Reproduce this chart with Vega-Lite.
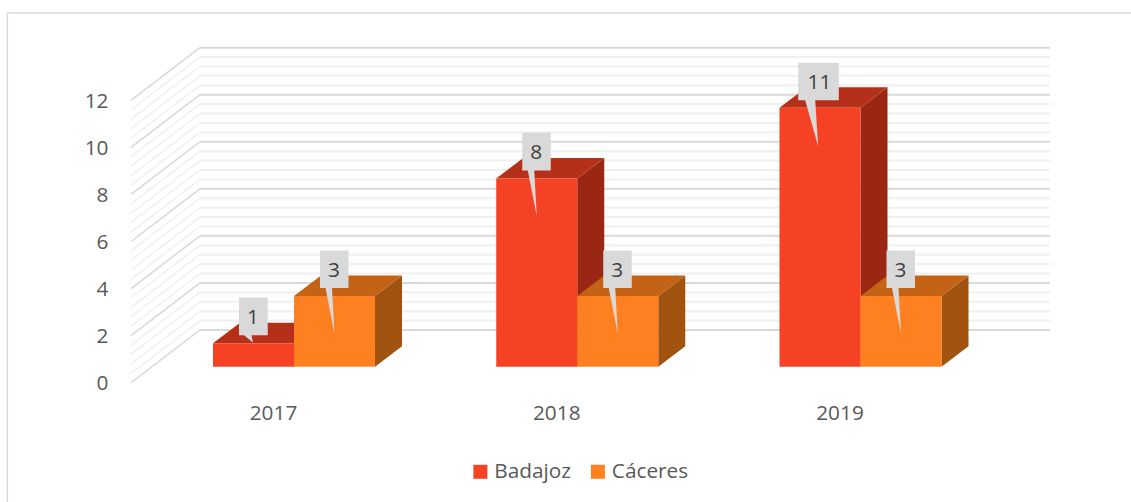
{
"$schema":"https://vega.github.io/schema/vega-lite/v6.json",
"width":1131,"height":502,"autosize":"none","padding":0,"background":"white",
"view":{"stroke":null},
"config":{"font":"Open Sans"},
"data":{"values":[
{"year":2017,"series":"Badajoz","value":1},
{"year":2017,"series":"Cáceres","value":3},
{"year":2018,"series":"Badajoz","value":8},
{"year":2018,"series":"Cáceres","value":3},
{"year":2019,"series":"Badajoz","value":11},
{"year":2019,"series":"Cáceres","value":3}
]},
"transform":[
{"calculate":"datum.year+(datum.series=='Badajoz'?-0.28597:0)","as":"xl"},
{"calculate":"datum.xl+0.28597","as":"xr"},
{"calculate":"datum.xl+0.142985","as":"xc"},
{"calculate":"datum.value+0.68","as":"top"},
{"calculate":"0","as":"p0"},
{"calculate":"1","as":"p1"},
{"fold":["p0","p1"],"as":["k","t"]},
{"calculate":"datum.xr+datum.t*0.09532","as":"sx"},
{"calculate":"datum.xl+datum.t*0.09532","as":"tx"},
{"calculate":"0.68+datum.t*0.8712","as":"sy0"},
{"calculate":"datum.top+datum.t*0.8712","as":"sy1"},
{"calculate":"datum.value==11?'w':(datum.value==1?'s':'n')","as":"kind"}
],
"layer":[
{"data":{"values":[{}]},"mark":{"type":"rule","color":"#D9D9D9","strokeWidth":1.5},
 "encoding":{
  "x":{"datum":2015.988,"type":"quantitative","scale":{"domain":[2015.962,2019.955],"nice":false,"zero":false},
   "axis":{"title":null,"orient":"bottom","values":[2017,2018,2019],"format":"d","domain":false,"ticks":false,"grid":false,"labelFontSize":20.8,"labelFont":"Open Sans","labelColor":"#595959","labelBaseline":"middle","labelPadding":0,"labelOffset":-21,"offset":-89,"labelOverlap":false,"labelBound":false,"labelFlush":false}},
  "y":{"datum":-5.07,"type":"quantitative","scale":{"domain":[-5.07,16.264],"nice":false,"zero":false},
   "axis":{"title":null,"orient":"left","values":[0,2,4,6,8,10,12],"domain":false,"ticks":false,"grid":false,"labelFontSize":20.8,"labelFont":"Open Sans","labelColor":"#595959","labelPadding":0,"labelOffset":1,"offset":-108,"labelOverlap":false,"labelBound":false,"labelFlush":false}},
  "y2":{"datum":15.71}
 }},
{"data":{"values":[{}]},"mark":{"type":"rule","color":"#D9D9D9","strokeWidth":1.5},
 "encoding":{
  "x":{"datum":2015.988,"type":"quantitative","scale":{"domain":[2015.962,2019.955],"nice":false,"zero":false}},
  "x2":{"datum":2019.955},
  "y":{"datum":15.71,"type":"quantitative","scale":{"domain":[-5.07,16.264],"nice":false,"zero":false}}
 }},
{"data":{"name":"minor","values":[{"v":0.4},{"v":0.8},{"v":1.2},{"v":1.6},{"v":2.4},{"v":2.8},{"v":3.2},{"v":3.6},{"v":4.4},{"v":4.8},{"v":5.2},{"v":5.6},{"v":6.4},{"v":6.8},{"v":7.2},{"v":7.6},{"v":8.4},{"v":8.8},{"v":9.2},{"v":9.6},{"v":10.4},{"v":10.8},{"v":11.2},{"v":11.6}]},
 "transform":[{"calculate":"datum.v+2.24","as":"bk"}],
 "layer":[
 {"mark":{"type":"rule","color":"#F0F0F0","strokeWidth":1.5},
  "encoding":{
  "x":{"datum":2016.4245,"type":"quantitative","scale":{"domain":[2015.962,2019.955],"nice":false,"zero":false}},
  "x2":{"datum":2016.668},
  "y":{"field":"v","type":"quantitative","scale":{"domain":[-5.07,16.264],"nice":false,"zero":false}},
  "y2":{"field":"bk"}}},
 {"mark":{"type":"rule","color":"#F0F0F0","strokeWidth":2},
  "encoding":{
  "x":{"datum":2016.668,"type":"quantitative","scale":{"domain":[2015.962,2019.955],"nice":false,"zero":false}},
  "x2":{"datum":2019.669},
  "y":{"field":"bk","type":"quantitative","scale":{"domain":[-5.07,16.264],"nice":false,"zero":false}}}}
 ]},
{"data":{"name":"major","values":[{"v":0},{"v":2},{"v":4},{"v":6},{"v":8},{"v":10},{"v":12}]},
 "transform":[{"calculate":"datum.v+2.24","as":"bk"}],
 "layer":[
 {"mark":{"type":"rule","color":"#D9D9D9","strokeWidth":1.5},
  "encoding":{
  "x":{"datum":2016.4245,"type":"quantitative","scale":{"domain":[2015.962,2019.955],"nice":false,"zero":false}},
  "x2":{"datum":2016.668},
  "y":{"field":"v","type":"quantitative","scale":{"domain":[-5.07,16.264],"nice":false,"zero":false}},
  "y2":{"field":"bk"}}},
 {"mark":{"type":"rule","color":"#D9D9D9","strokeWidth":2},
  "encoding":{
  "x":{"datum":2016.668,"type":"quantitative","scale":{"domain":[2015.962,2019.955],"nice":false,"zero":false}},
  "x2":{"datum":2019.669},
  "y":{"field":"bk","type":"quantitative","scale":{"domain":[-5.07,16.264],"nice":false,"zero":false}}}}
 ]},
{"transform":[{"filter":"datum.series=='Badajoz'"}],"mark":{"type":"area","color":"#9A2713","opacity":1},
 "encoding":{
  "detail":{"field":"year"},
  "x":{"field":"sx","type":"quantitative","scale":{"domain":[2015.962,2019.955],"nice":false,"zero":false}},
  "y":{"field":"sy0","type":"quantitative","scale":{"domain":[-5.07,16.264],"nice":false,"zero":false}},
  "y2":{"field":"sy1"}}},
{"transform":[{"filter":"datum.series=='Badajoz'"},{"calculate":"datum.tx+0.28597","as":"tx2"}],"mark":{"type":"area","orient":"horizontal","color":"#B53018","opacity":1},
 "encoding":{
  "detail":{"field":"year"},
  "x":{"field":"tx","type":"quantitative","scale":{"domain":[2015.962,2019.955],"nice":false,"zero":false}},
  "x2":{"field":"tx2"},
  "y":{"field":"sy1","type":"quantitative","scale":{"domain":[-5.07,16.264],"nice":false,"zero":false}}}},
{"transform":[{"filter":"datum.series=='Badajoz' && datum.t==0"}],"mark":{"type":"rect"},
 "encoding":{
  "x":{"field":"xl","type":"quantitative","scale":{"domain":[2015.962,2019.955],"nice":false,"zero":false}},
  "x2":{"field":"xr"},
  "y":{"field":"sy0","type":"quantitative","scale":{"domain":[-5.07,16.264],"nice":false,"zero":false}},
  "y2":{"field":"sy1"},
  "color":{"field":"series","type":"nominal","scale":{"domain":["Badajoz","Cáceres"],"range":["#F54224","#FF8021"]},
   "legend":{"title":null,"orient":"none","legendX":470,"legendY":461,"direction":"horizontal","columns":2,"symbolType":"square","symbolSize":196,"symbolStrokeWidth":0,"labelFontSize":20.8,"labelFont":"Open Sans","labelColor":"#595959","labelOffset":3.5,"columnPadding":15.5,"padding":0}}}},
{"transform":[{"filter":"datum.series=='Cáceres'"}],"mark":{"type":"area","color":"#A35310","opacity":1},
 "encoding":{
  "detail":{"field":"year"},
  "x":{"field":"sx","type":"quantitative","scale":{"domain":[2015.962,2019.955],"nice":false,"zero":false}},
  "y":{"field":"sy0","type":"quantitative","scale":{"domain":[-5.07,16.264],"nice":false,"zero":false}},
  "y2":{"field":"sy1"}}},
{"transform":[{"filter":"datum.series=='Cáceres'"},{"calculate":"datum.tx+0.28597","as":"tx2"}],"mark":{"type":"area","orient":"horizontal","color":"#C46316","opacity":1},
 "encoding":{
  "detail":{"field":"year"},
  "x":{"field":"tx","type":"quantitative","scale":{"domain":[2015.962,2019.955],"nice":false,"zero":false}},
  "x2":{"field":"tx2"},
  "y":{"field":"sy1","type":"quantitative","scale":{"domain":[-5.07,16.264],"nice":false,"zero":false}}}},
{"transform":[{"filter":"datum.series=='Cáceres' && datum.t==0"}],"mark":{"type":"rect"},
 "encoding":{
  "x":{"field":"xl","type":"quantitative","scale":{"domain":[2015.962,2019.955],"nice":false,"zero":false}},
  "x2":{"field":"xr"},
  "y":{"field":"sy0","type":"quantitative","scale":{"domain":[-5.07,16.264],"nice":false,"zero":false}},
  "y2":{"field":"sy1"},
  "color":{"field":"series","type":"nominal","scale":{"domain":["Badajoz","Cáceres"],"range":["#F54224","#FF8021"]},"legend":{"title":null,"orient":"none","legendX":470,"legendY":461,"direction":"horizontal","columns":2,"symbolType":"square","symbolSize":196,"symbolStrokeWidth":0,"labelFontSize":20.8,"labelFont":"Open Sans","labelColor":"#595959","labelOffset":3.5,"columnPadding":15.5,"padding":0}}}},
{"transform":[{"filter":"datum.t==0"}],"mark":{"type":"point","filled":true,"color":"#D9D9D9","opacity":1,"size":4},
 "encoding":{
  "x":{"field":"xc","type":"quantitative","scale":{"domain":[2015.962,2019.955],"nice":false,"zero":false}},
  "y":{"field":"sy1","type":"quantitative","scale":{"domain":[-5.07,16.264],"nice":false,"zero":false}},
  "shape":{"field":"kind","type":"nominal","legend":null,"scale":{"domain":["n","w","s"],"range":[
   "M-14.5,-45.7L14,-45.7L14,-8L-2.5,-8L0,37.5L-9,-8L-14.5,-8Z",
   "M-21.8,-45L18.8,-45L18.8,-7.5L-4.8,-7.5L-1.8,38.7L-14.8,-7.5L-21.8,-7.5Z",
   "M-14.5,-45.6L14.2,-45.6L14.2,-8L-2,-8L-0.5,-0.6L-9.5,-8L-14.5,-8Z"]}}}},
{"transform":[{"filter":"datum.t==0"}],"mark":{"type":"text","font":"Open Sans","fontSize":20.8,"color":"#404040","baseline":"middle","dy":-25,"dx":-0.5},
 "encoding":{
  "x":{"field":"xc","type":"quantitative","scale":{"domain":[2015.962,2019.955],"nice":false,"zero":false}},
  "y":{"field":"sy1","type":"quantitative","scale":{"domain":[-5.07,16.264],"nice":false,"zero":false}},
  "text":{"field":"value","type":"quantitative"}}}
]
}
